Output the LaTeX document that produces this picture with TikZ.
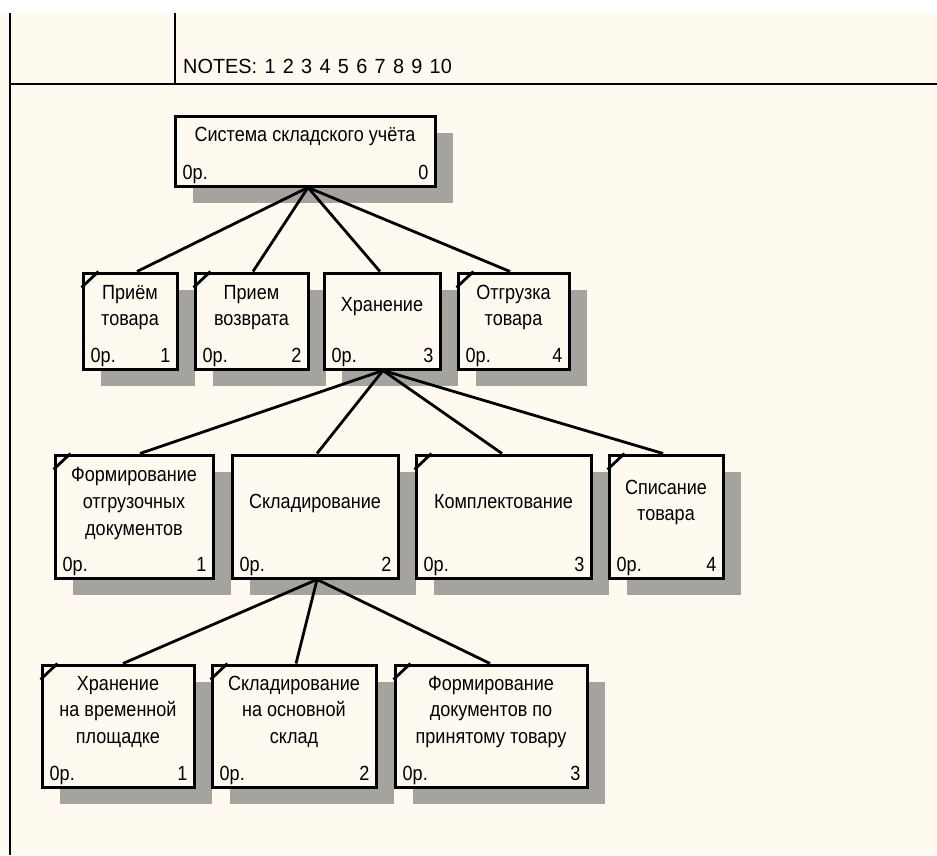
\documentclass[tikz,border=0pt]{standalone}
\usepackage{fontspec}
\newfontfamily\idf{Liberation Sans}[FakeStretch=0.88]
\newfontfamily\ntf{Liberation Sans}[FakeStretch=0.97]
\usetikzlibrary{shadows}
\definecolor{cream}{RGB}{255,250,239}
\definecolor{shcol}{RGB}{165,163,158}
\tikzset{
  frame/.style={line width=1.5pt, black},
  boxst/.style={draw=black, line width=3pt, fill=cream, inner sep=0pt,
    general shadow={shadow xshift=18pt, shadow yshift=-17pt, fill=shcol}},
  lbl/.style={inner sep=0pt, font=\idf\fontsize{20.5}{26}\selectfont, text=black},
  conn/.style={line width=2.8pt, black},
  cornerst/.style={line width=2.8pt, black}
}
% name, x1, y1, x2, y2, number
\newcommand\ibox[6]{%
  \node[boxst, minimum width={(#4-#2)*1pt}, minimum height={(#5-#3)*1pt}] (#1) at ({(#2+#4)/2},{(#3+#5)/2}) {};
  \node[lbl, anchor=base west] (#1-o) at ([xshift=9pt,yshift=8pt]#1.south west) {0р.};
  \node[lbl, anchor=base east] (#1-n) at ([xshift=-8pt,yshift=8pt]#1.south east) {#6};
}
\newcommand\icorner[1]{%
  \draw[cornerst] ([yshift=-16pt]#1.north west) -- ([xshift=17pt]#1.north west);
}
% name, depth below top, text
\newcommand\iline[3]{%
  \node[lbl, anchor=base] (#1-t#2) at ([yshift=-#2pt]#1.north) {#3};
}
\begin{document}
\begin{tikzpicture}[x=1pt,y=-1pt]
\useasboundingbox (0,0) rectangle (937,855);
\fill[cream] (0,0) rectangle (937,855);
\fill[white] (0,0) rectangle (937,13);
% frame
\draw[frame] (10,13) -- (10,855);
\draw[frame] (175,13) -- (175,84);
\draw[frame] (10,84) -- (937,84);
\node[inner sep=0pt, anchor=base west, font=\ntf\fontsize{20.5}{26}\selectfont] (notes) at (183,73) {\spaceskip=7.3pt\relax NOTES: 1 2 3 4 5 6 7 8 9 10};

% boxes
\ibox{top}{175}{116}{435}{186}{0}
\iline{top}{27}{Система складского учёта}

\ibox{a}{83}{273}{177}{369}{1}
\ibox{b}{195}{273}{308}{369}{2}
\ibox{c}{324}{273}{440}{369}{3}
\ibox{d}{458}{273}{569}{369}{4}
\icorner{a}\icorner{b}\icorner{d}
\iline{a}{28}{Приём}\iline{a}{54}{товара}
\iline{b}{28}{Прием}\iline{b}{54}{возврата}
\iline{c}{40}{Хранение}
\iline{d}{28}{Отгрузка}\iline{d}{54}{товара}

\ibox{ca}{55}{455}{213}{578}{1}
\ibox{cb}{232}{455}{398}{578}{2}
\ibox{cc}{416}{455}{591}{578}{3}
\ibox{cd}{609}{455}{723}{578}{4}
\icorner{ca}\icorner{cc}\icorner{cd}
\iline{ca}{28}{Формирование}\iline{ca}{55}{отгрузочных}\iline{ca}{82}{документов}
\iline{cb}{55}{Складирование}
\iline{cc}{55}{Комплектование}
\iline{cd}{41}{Списание}\iline{cd}{67}{товара}

\ibox{ba}{42}{665}{194}{787}{1}
\ibox{bb}{212}{665}{376}{787}{2}
\ibox{bc}{395}{665}{587}{787}{3}
\icorner{ba}\icorner{bb}\icorner{bc}
\iline{ba}{27}{Хранение}\iline{ba}{53}{на временной}\iline{ba}{80}{площадке}
\iline{bb}{27}{Складирование}\iline{bb}{53}{на основной}\iline{bb}{80}{склад}
\iline{bc}{27}{Формирование}\iline{bc}{53}{документов по}\iline{bc}{80}{принятому товару}

% connectors
\draw[conn] ([xshift=3pt]top.south) -- ([xshift=7pt]a.north);
\draw[conn] ([xshift=3pt]top.south) -- ([xshift=1.5pt]b.north);
\draw[conn] ([xshift=3pt]top.south) -- ([xshift=-2pt]c.north);
\draw[conn] ([xshift=3pt]top.south) -- ([xshift=-3.5pt]d.north);

\draw[conn] ([xshift=1pt]c.south) -- ([xshift=6pt]ca.north);
\draw[conn] ([xshift=1pt]c.south) -- ([xshift=2pt]cb.north);
\draw[conn] ([xshift=1pt]c.south) -- ([xshift=-1.5pt]cc.north);
\draw[conn] ([xshift=1pt]c.south) -- ([xshift=-3pt]cd.north);

\draw[conn] ([xshift=2pt]cb.south) -- ([xshift=5pt]ba.north);
\draw[conn] ([xshift=2pt]cb.south) -- ([xshift=2pt]bb.north);
\draw[conn] ([xshift=2pt]cb.south) -- ([xshift=-1pt]bc.north);
\end{tikzpicture}
\end{document}
